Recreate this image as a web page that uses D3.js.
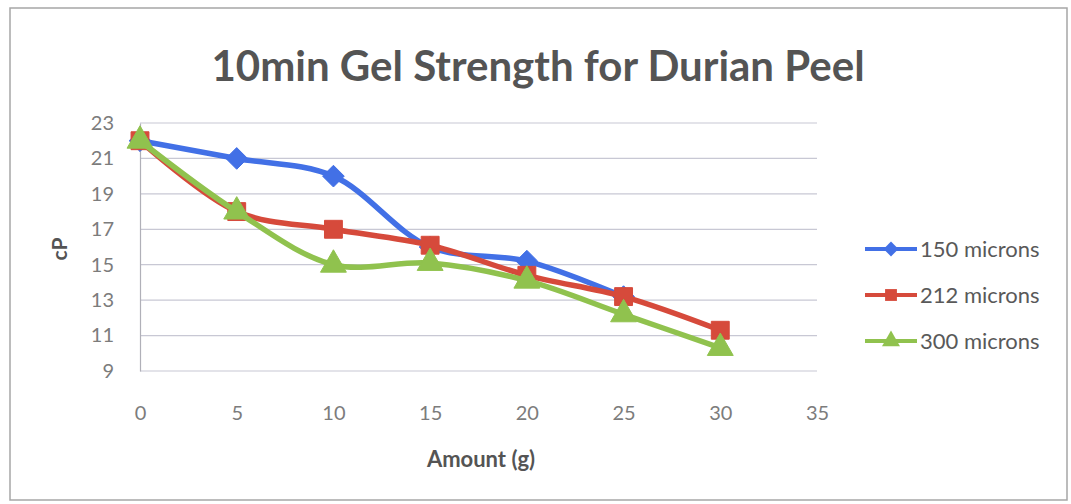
<!DOCTYPE html>
<html>
<head>
<meta charset="utf-8">
<script src="https://cdn.jsdelivr.net/npm/d3@7"></script>
<style>
  html, body { margin: 0; padding: 0; background: #fff; }
  svg { display: block; font-family: Lato, "Open Sans", sans-serif; }
</style>
</head>
<body>
<svg id="chart" width="1071" height="504"></svg>
<script>
// Amount of durian peel added (g)
const amounts = [0, 5, 10, 15, 20, 25, 30];
// 10-minute gel strength (cP) per particle size
const microns150 = [22, 21, 20, 16, 15.2, 13.2];
const microns212 = [22, 18, 17, 16.1, 14.4, 13.2, 11.3];
const microns300 = [22, 18, 15, 15.1, 14.1, 12.2, 10.3];
const seriesNames = ["150 microns", "212 microns", "300 microns"];
const xTicks = [0, 5, 10, 15, 20, 25, 30, 35];
const yTicks = [9, 11, 13, 15, 17, 19, 21, 23];

const series = [
  { name: seriesNames[0], values: microns150, color: "#4270e6", shape: d3.symbolDiamond2, size: 300 },
  { name: seriesNames[1], values: microns212, color: "#d64a3b", shape: d3.symbolSquare, size: 320 },
  { name: seriesNames[2], values: microns300, color: "#90c24e", shape: d3.symbolTriangle, size: 290 }
];

const svg = d3.select("#chart");

// chart frame
svg.append("rect")
  .attr("x", 10).attr("y", 8).attr("width", 1057).attr("height", 492)
  .attr("fill", "#fff").attr("stroke", "#a6a6a6").attr("stroke-width", 1.5);

const plot = { left: 140, right: 817, top: 123, bottom: 371 };

const x = d3.scaleLinear().domain([0, 35]).range([plot.left, plot.right]);
const y = d3.scaleLinear().domain([9, 23]).range([plot.bottom, plot.top]);

// title
svg.append("text")
  .attr("x", 538).attr("y", 81)
  .attr("text-anchor", "middle")
  .attr("font-size", 42).attr("font-weight", 700)
  .attr("fill", "#545454")
  .text("10min Gel Strength for Durian Peel");

// horizontal gridlines
svg.append("g")
  .selectAll("line")
  .data(yTicks)
  .join("line")
  .attr("x1", plot.left).attr("x2", plot.right)
  .attr("y1", d => y(d)).attr("y2", d => y(d))
  .attr("stroke", "#c8c8d4").attr("stroke-width", 1.2);

// y axis
const yAxis = svg.append("g")
  .attr("transform", `translate(${plot.left},0)`)
  .call(d3.axisLeft(y).tickValues(yTicks).tickSize(0).tickPadding(26));
yAxis.select(".domain").attr("stroke", "#b0b0b8").attr("stroke-width", 1.2);
yAxis.selectAll("text").attr("font-size", 20).attr("fill", "#7c7c7c")
  .attr("font-family", "Lato, sans-serif");

// x axis labels
const xAxis = svg.append("g")
  .attr("transform", `translate(0,${plot.bottom})`)
  .call(d3.axisBottom(x).tickValues(xTicks).tickSize(0).tickPadding(35));
xAxis.select(".domain").remove();
xAxis.selectAll("text").attr("font-size", 20).attr("fill", "#7c7c7c")
  .attr("font-family", "Lato, sans-serif");

// axis titles
svg.append("text")
  .attr("x", 481).attr("y", 467)
  .attr("text-anchor", "middle")
  .attr("font-size", 22).attr("font-weight", 700).attr("fill", "#545454")
  .text("Amount (g)");
svg.append("text")
  .attr("transform", "translate(67,249) rotate(-90)")
  .attr("text-anchor", "middle")
  .attr("font-size", 21).attr("font-weight", 700).attr("fill", "#545454")
  .text("cP");

// smoothed series lines
const line = d3.line()
  .x((d, i) => x(amounts[i]))
  .y(d => y(d))
  .curve(d3.curveCatmullRom.alpha(0.5));

const g = svg.append("g");
series.forEach(s => {
  g.append("path")
    .datum(s.values)
    .attr("d", line)
    .attr("fill", "none")
    .attr("stroke", s.color)
    .attr("stroke-width", 5.5)
    .attr("stroke-linejoin", "round")
    .attr("stroke-linecap", "round");
  g.append("g")
    .selectAll("path")
    .data(s.values)
    .join("path")
    .attr("transform", (d, i) => `translate(${x(amounts[i])},${y(d)})`)
    .attr("d", d3.symbol().type(s.shape).size(s.size))
    .attr("fill", s.color)
    .attr("stroke", s.color)
    .attr("stroke-width", 1);
});

// legend
const legend = svg.append("g");
series.forEach((s, i) => {
  const ly = 249 + i * 46;
  legend.append("line")
    .attr("x1", 865).attr("x2", 917).attr("y1", ly).attr("y2", ly)
    .attr("stroke", s.color).attr("stroke-width", 4);
  legend.append("path")
    .attr("transform", `translate(891,${ly})`)
    .attr("d", d3.symbol().type(s.shape).size(140))
    .attr("fill", s.color);
  legend.append("text")
    .attr("x", 920).attr("y", ly + 8)
    .attr("font-size", 22).attr("fill", "#595959")
    .text(s.name);
});
</script>
</body>
</html>
